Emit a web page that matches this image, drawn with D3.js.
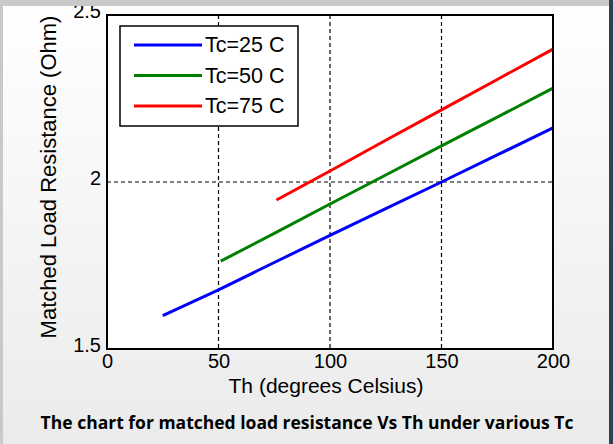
<!DOCTYPE html>
<html>
<head>
<meta charset="utf-8">
<script src="https://cdn.jsdelivr.net/npm/d3@7"></script>
<style>
  body { margin: 0; padding: 0; }
  svg text { font-family: "Liberation Sans", Arial, sans-serif; }
</style>
</head>
<body>
<div id="chart"></div>
<script>
// data
var th25 = [25, 50, 75, 100, 125, 150, 175, 200];
var r25 = [1.600, 1.677, 1.759, 1.840, 1.920, 2.000, 2.081, 2.162];
var th50 = [51, 75, 100, 125, 150, 175, 200];
var r50 = [1.763, 1.846, 1.934, 2.021, 2.108, 2.194, 2.281];
var th75 = [76, 100, 125, 150, 175, 200];
var r75 = [1.946, 2.033, 2.125, 2.216, 2.307, 2.398];
var seriesNames = ["Tc=25 C", "Tc=50 C", "Tc=75 C"];
var seriesColors = ["#0000ff", "#008000", "#ff0000"];
var xTicks = [0, 50, 100, 150, 200];
var yTicks = [1.5, 2, 2.5];

var W = 613, H = 444;
var svg = d3.select("#chart").append("svg")
	.attr("width", W)
	.attr("height", H)
	.attr("viewBox", [0, 0, W, H]);

// page background
var grad = svg.append("defs").append("linearGradient")
	.attr("id", "bg").attr("x1", 0).attr("y1", 0).attr("x2", 0).attr("y2", 1);
grad.append("stop").attr("offset", "0%").attr("stop-color", "#ffffff");
grad.append("stop").attr("offset", "100%").attr("stop-color", "#ebebeb");
svg.append("rect").attr("width", W).attr("height", H).attr("fill", "url(#bg)");

var x = d3.scaleLinear().domain([0, 200]).range([107, 553]);
var y = d3.scaleLinear().domain([1.5, 2.5]).range([349, 15]);

// plot area
svg.append("rect")
	.attr("x", x(0)).attr("y", y(2.5))
	.attr("width", x(200) - x(0)).attr("height", y(1.5) - y(2.5))
	.attr("fill", "#fff");

// dashed grid
svg.selectAll(".gx")
	.data(xTicks.slice(1, -1))
	.join("line")
	.attr("x1", d => x(d)).attr("x2", d => x(d))
	.attr("y1", y(2.5)).attr("y2", y(1.5))
	.attr("stroke", "#000").attr("stroke-width", 1.2)
	.attr("stroke-dasharray", "4,3");
svg.selectAll(".gy")
	.data(yTicks.slice(1, -1))
	.join("line")
	.attr("x1", x(0)).attr("x2", x(200))
	.attr("y1", d => y(d)).attr("y2", d => y(d))
	.attr("stroke", "#000").attr("stroke-width", 1.2)
	.attr("stroke-dasharray", "4,3");

// curves
var allSeries = [
	d3.zip(th25, r25),
	d3.zip(th50, r50),
	d3.zip(th75, r75)
];
var line = d3.line().x(d => x(d[0])).y(d => y(d[1]));
svg.selectAll(".curve")
	.data(allSeries)
	.join("path")
	.attr("d", line)
	.attr("fill", "none")
	.attr("stroke", (d, i) => seriesColors[i])
	.attr("stroke-width", 3);

// axes (labels only, no tick marks)
var xAxis = svg.append("g")
	.attr("transform", "translate(0," + y(1.5) + ")")
	.call(d3.axisBottom(x).tickValues(xTicks).tickSize(0).tickPadding(5).tickFormat(d3.format("d")));
var yAxis = svg.append("g")
	.attr("transform", "translate(" + x(0) + ",0)")
	.call(d3.axisLeft(y).tickValues(yTicks).tickSize(0).tickPadding(6).tickFormat(d => d));
[xAxis, yAxis].forEach(function(a) {
	a.select(".domain").remove();
	a.selectAll("text")
		.attr("fill", "#000")
		.style("font-size", "20px")
		.style("font-family", "Liberation Sans, Arial, sans-serif");
});
yAxis.selectAll("text").attr("dy", "0.1em");

// frame
svg.append("rect")
	.attr("x", x(0)).attr("y", y(2.5))
	.attr("width", x(200) - x(0)).attr("height", y(1.5) - y(2.5))
	.attr("fill", "none").attr("stroke", "#000").attr("stroke-width", 2);

// legend
var lg = svg.append("g");
lg.append("rect")
	.attr("x", 120).attr("y", 26).attr("width", 178).attr("height", 100)
	.attr("fill", "#fff").attr("stroke", "#000").attr("stroke-width", 1.5);
seriesNames.forEach(function(name, i) {
	var ly = 45 + i * 30.5;
	lg.append("line")
		.attr("x1", 134).attr("x2", 202).attr("y1", ly).attr("y2", ly)
		.attr("stroke", seriesColors[i]).attr("stroke-width", 3);
	lg.append("text")
		.attr("x", 205).attr("y", ly + 7)
		.style("font-size", "21.5px")
		.text(name);
});

// axis titles
svg.append("text")
	.attr("x", x(100) - 4).attr("y", 393)
	.attr("text-anchor", "middle")
	.style("font-size", "21px")
	.text("Th (degrees Celsius)");
svg.append("text")
	.attr("transform", "translate(56,177) rotate(-90)")
	.attr("text-anchor", "middle")
	.style("font-size", "22px")
	.text("Matched Load Resistance (Ohm)");

// caption
svg.append("text")
	.attr("x", 307).attr("y", 429)
	.attr("text-anchor", "middle")
	.style("font-family", "Open Sans, sans-serif")
	.style("font-weight", "bold")
	.style("font-size", "17.5px")
	.text("The chart for matched load resistance Vs Th under various Tc");

// window borders
svg.append("rect").attr("x", 0).attr("y", 0).attr("width", W).attr("height", 6).attr("fill", "#c9c9c9");
svg.append("rect").attr("x", 0).attr("y", 0).attr("width", 3).attr("height", H).attr("fill", "#c9c9c9");
svg.append("rect").attr("x", 609).attr("y", 0).attr("width", 4).attr("height", H).attr("fill", "#2e4156");
</script>
</body>
</html>
